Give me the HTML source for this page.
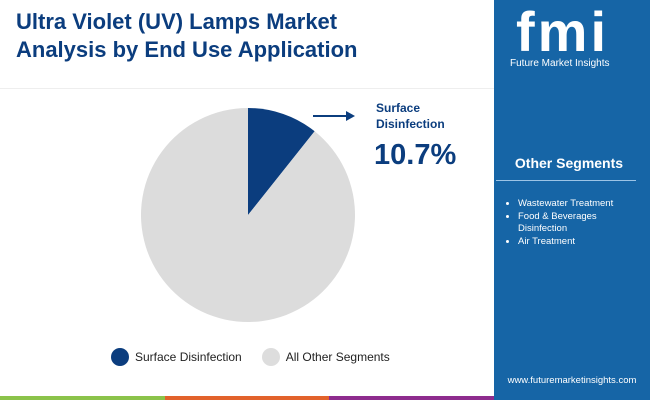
<!DOCTYPE html>
<html><head><meta charset="utf-8"><style>
body{margin:0;width:650px;height:400px;overflow:hidden;font-family:"Liberation Sans",sans-serif;background:#fff;position:relative}
.abs{position:absolute}
</style></head><body>
<div class="abs" style="left:16px;top:8px;font-size:22px;font-weight:bold;color:#0b3d7e;line-height:28px">Ultra Violet (UV) Lamps Market<br>Analysis by End Use Application</div>
<div class="abs" style="left:0;top:88px;width:494px;height:1px;background:#eee"></div>
<svg class="abs" style="left:0;top:0" width="494" height="400">
<g id="pie"></g>
<line x1="313" y1="116" x2="348" y2="116" stroke="#0b3d7e" stroke-width="2"/>
<polygon points="355,116 346,111 346,121" fill="#0b3d7e"/>
</svg>
<div class="abs" style="left:376px;top:100px;font-size:12px;font-weight:bold;color:#0b3d7e;line-height:16px">Surface<br>Disinfection</div>
<div class="abs" style="left:374px;top:139px;font-size:29px;font-weight:bold;color:#0b3d7e">10.7%</div>
<div class="abs" style="left:111px;top:348px;font-size:12px;color:#222;display:flex;align-items:center">
<span style="width:18px;height:18px;border-radius:50%;background:#0b3d7e;display:inline-block;margin-right:6px"></span><span>Surface Disinfection</span>
<span style="width:18px;height:18px;border-radius:50%;background:#ddd;display:inline-block;margin:0 6px 0 20px"></span><span>All Other Segments</span>
</div>
<div class="abs" style="left:0;top:396px;width:165px;height:4px;background:#8bc34a"></div>
<div class="abs" style="left:165px;top:396px;width:164px;height:4px;background:#e2622b"></div>
<div class="abs" style="left:329px;top:396px;width:165px;height:4px;background:#8e2c8e"></div>
<div class="abs" style="left:494px;top:0;width:156px;height:400px;background:#1665a6;color:#fff">
<div style="position:absolute;left:22px;top:4px;font-size:56px;font-weight:bold;letter-spacing:3px;line-height:56px">fmi</div>
<div style="position:absolute;left:16px;top:58px;font-size:10px">Future Market Insights</div>
<div style="position:absolute;left:0;width:150px;text-align:center;top:155px;font-size:14px;font-weight:bold">Other Segments</div>
<div style="position:absolute;left:2px;top:180px;width:140px;height:1px;background:#9cc4e6"></div>
<ul style="position:absolute;left:0;top:198px;margin:0;padding-left:24px;font-size:9.5px;line-height:12.5px;width:120px">
<li>Wastewater Treatment</li><li>Food &amp; Beverages Disinfection</li><li>Air Treatment</li></ul>
<div style="position:absolute;left:0;top:375px;width:156px;text-align:center;font-size:9.5px">www.futuremarketinsights.com</div>
</div>
<script>
const categories=["Surface Disinfection","All Other Segments"];
const values=[10.7,89.3];
const colors=["#0b3d7e","#dcdcdc"];
const cx=248,cy=215,r=107;
const g=document.getElementById('pie');
const total=values.reduce((a,b)=>a+b,0);
let a0=-Math.PI/2;
values.forEach((v,i)=>{
 const a1=a0+v/total*2*Math.PI;
 const large=(a1-a0)>Math.PI?1:0;
 const p=document.createElementNS('http://www.w3.org/2000/svg','path');
 p.setAttribute('d',`M${cx},${cy}L${cx+r*Math.cos(a0)},${cy+r*Math.sin(a0)}A${r},${r} 0 ${large} 1 ${cx+r*Math.cos(a1)},${cy+r*Math.sin(a1)}Z`);
 p.setAttribute('fill',colors[i]);
 
 
 g.appendChild(p);a0=a1;
});
</script>
</body></html>
